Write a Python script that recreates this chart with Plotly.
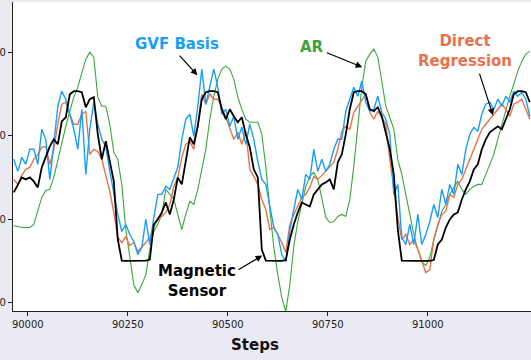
import plotly.graph_objects as go

# x grid (steps)
steps = list(range(89965, 91260, 10))

magnetic = [660, 708, 750, 738, 750, 726, 690, 810, 870, 936,
            978, 948, 1086, 1110, 1248, 1266, 1266, 1260, 1170, 1218,
            1230, 1008, 858, 966, 846, 726, 378, 252, 250, 250,
            250, 250, 250, 252, 258, 468, 498, 540, 600, 528,
            618, 750, 708, 858, 990, 948, 1056, 1218, 1260, 1266,
            1266, 1260, 1158, 1098, 1158, 1116, 1080, 1110, 1008, 930,
            798, 750, 318, 252, 250, 250, 250, 250, 255, 378,
            468, 540, 600, 588, 576, 648, 678, 708, 720, 738,
            678, 840, 888, 1008, 1158, 1260, 1266, 1266, 1248, 1158,
            1146, 1170, 1116, 1008, 918, 768, 438, 252, 250, 250,
            250, 250, 250, 250, 250, 255, 348, 378, 450, 498,
            528, 540, 618, 678, 726, 798, 828, 918, 978, 1020,
            1038, 1056, 1038, 1098, 1158, 1248, 1266, 1266, 1260, 1200]

gvf_basis = [858, 786, 870, 828, 918, 918, 828, 1038, 978, 738,
             948, 1176, 1266, 1218, 1128, 1038, 918, 1158, 768, 1038,
             1200, 1068, 978, 936, 786, 648, 528, 426, 468, 408,
             366, 288, 330, 498, 348, 510, 648, 648, 696, 678,
             738, 810, 978, 1098, 1128, 996, 1176, 1398, 1188, 1290,
             1398, 1290, 1128, 1158, 1056, 1116, 978, 1050, 948, 1068,
             978, 846, 738, 708, 588, 450, 408, 288, 246, 426,
             558, 678, 618, 768, 738, 918, 786, 858, 786, 828,
             918, 978, 978, 1146, 1218, 1290, 1236, 1326, 1200, 1146,
             1158, 1236, 1140, 1098, 1008, 648, 708, 390, 348, 468,
             348, 528, 348, 408, 486, 588, 510, 678, 588, 708,
             648, 828, 768, 918, 1008, 1050, 1026, 1128, 1188, 1200,
             1158, 1218, 1176, 1236, 1200, 1266, 1236, 1260, 1218, 1116]

direct_regression = [738, 708, 762, 798, 810, 858, 888, 930, 936, 828,
                     918, 1068, 1188, 1200, 1128, 1068, 1068, 1128, 1146, 888,
                     918, 906, 858, 768, 666, 540, 390, 360, 396, 342,
                     360, 306, 330, 360, 390, 456, 510, 516, 540, 588,
                     696, 750, 870, 948, 966, 918, 1068, 1248, 1188, 1248,
                     1218, 1218, 1170, 1110, 1038, 978, 1020, 948, 1026, 798,
                     756, 708, 618, 558, 438, 450, 408, 360, 300, 468,
                     528, 576, 630, 648, 690, 756, 738, 762, 786, 810,
                     840, 918, 1026, 1056, 1038, 1140, 1176, 1206, 1248, 1140,
                     1098, 1146, 1110, 1068, 858, 678, 510, 378, 408, 348,
                     378, 318, 246, 180, 198, 378, 468, 528, 546, 648,
                     630, 708, 738, 798, 858, 918, 978, 1038, 1068, 1098,
                     1128, 1158, 1188, 1158, 1116, 1188, 1200, 1218, 1152, 1098]

ar = [462, 456, 450, 450, 450, 468, 546, 630, 672, 678,
      750, 858, 966, 1056, 1146, 1230, 1290, 1368, 1458, 1500,
      1470, 1230, 1176, 1176, 1068, 900, 858, 708, 438, 276,
      108, 60, 108, 168, 318, 426, 468, 528, 678, 648,
      618, 528, 438, 528, 606, 588, 678, 798, 918, 1098,
      1236, 1338, 1398, 1416, 1398, 1338, 1230, 1158, 1098, 1080,
      1080, 1080, 1008, 816, 558, 330, 168, 30, -54, 108,
      336, 486, 588, 696, 756, 780, 738, 618, 510, 480,
      486, 516, 528, 516, 618, 816, 1068, 1290, 1446, 1488,
      1518, 1470, 1326, 1176, 1110, 1038, 858, 768, 648, 528,
      408, 318, 246, 222, 270, 378, 468, 546, 588, 648,
      690, 726, 678, 648, 678, 696, 708, 708, 768, 828,
      888, 978, 1068, 1158, 1236, 1308, 1386, 1446, 1488, 1506]

x_ticks = [90000, 90250, 90500, 90750, 91000]
y_ticks = [0, 500, 1000, 1500]

BLUE = "#1a9ef5"
ORANGE = "#e8724c"
GREEN = "#3aa63a"
BLACK = "#000000"
FONT = "DejaVu Sans"

fig = go.Figure()
fig.add_trace(go.Scatter(x=steps, y=ar, mode="lines", line=dict(color=GREEN, width=1.1), name="AR"))
fig.add_trace(go.Scatter(x=steps, y=direct_regression, mode="lines", line=dict(color=ORANGE, width=1.4), name="Direct Regression"))
fig.add_trace(go.Scatter(x=steps, y=gvf_basis, mode="lines", line=dict(color=BLUE, width=1.4), name="GVF Basis"))
fig.add_trace(go.Scatter(x=steps, y=magnetic, mode="lines", line=dict(color=BLACK, width=1.8), name="Magnetic Sensor"))

def label(text, x, y, color):
    fig.add_annotation(x=x, y=y, xref="x", yref="y", text="<b>" + text + "</b>",
                       showarrow=False, font=dict(family=FONT, size=15, color=color),
                       xanchor="center", yanchor="middle", align="center")

def arrow(x0, y0, x1, y1):
    fig.add_annotation(x=x1, y=y1, ax=x0, ay=y0, xref="x", yref="y", axref="x", ayref="y",
                       text="", showarrow=True, arrowhead=2, arrowsize=1.1,
                       arrowwidth=1.2, arrowcolor=BLACK)

label("GVF Basis", 90374, 1548, BLUE)
arrow(90376, 1488, 90424, 1362)
label("AR", 90711, 1530, GREEN)
arrow(90744, 1500, 90836, 1410)
label("Direct<br>Regression", 91093, 1506, ORANGE)
arrow(91128, 1380, 91163, 1122)
label("Magnetic<br>Sensor", 90424, 132, BLACK)
arrow(90523, 192, 90586, 282)

fig.add_annotation(x=0.467, y=-0.11, xref="paper", yref="paper", text="<b>Steps</b>",
                   showarrow=False, font=dict(family=FONT, size=15, color="#111111"),
                   xanchor="center", yanchor="middle")

axis_common = dict(showline=True, linecolor="#222222", linewidth=1.3, ticks="outside",
                   ticklen=4, tickcolor="#222222", tickwidth=1, showgrid=False, zeroline=False,
                   tickfont=dict(family=FONT, size=10, color="#222222"))

fig.update_layout(
    width=531, height=360,
    margin=dict(l=13, r=0, t=2, b=49, pad=0),
    paper_bgcolor="#eaeaf2", plot_bgcolor="white",
    showlegend=False,
    xaxis=dict(range=[89963, 91258], tickvals=x_ticks, ticktext=[str(v) for v in x_ticks], **axis_common),
    yaxis=dict(range=[-50, 1800], tickvals=y_ticks, ticktext=[str(v) for v in y_ticks],
               automargin=False, **axis_common),
)
fig.update_xaxes(automargin=False)

fig.write_html("out.html", config={"displayModeBar": False},
               post_script="document.body.style.margin='0';document.body.style.background='#eaeaf2';")
